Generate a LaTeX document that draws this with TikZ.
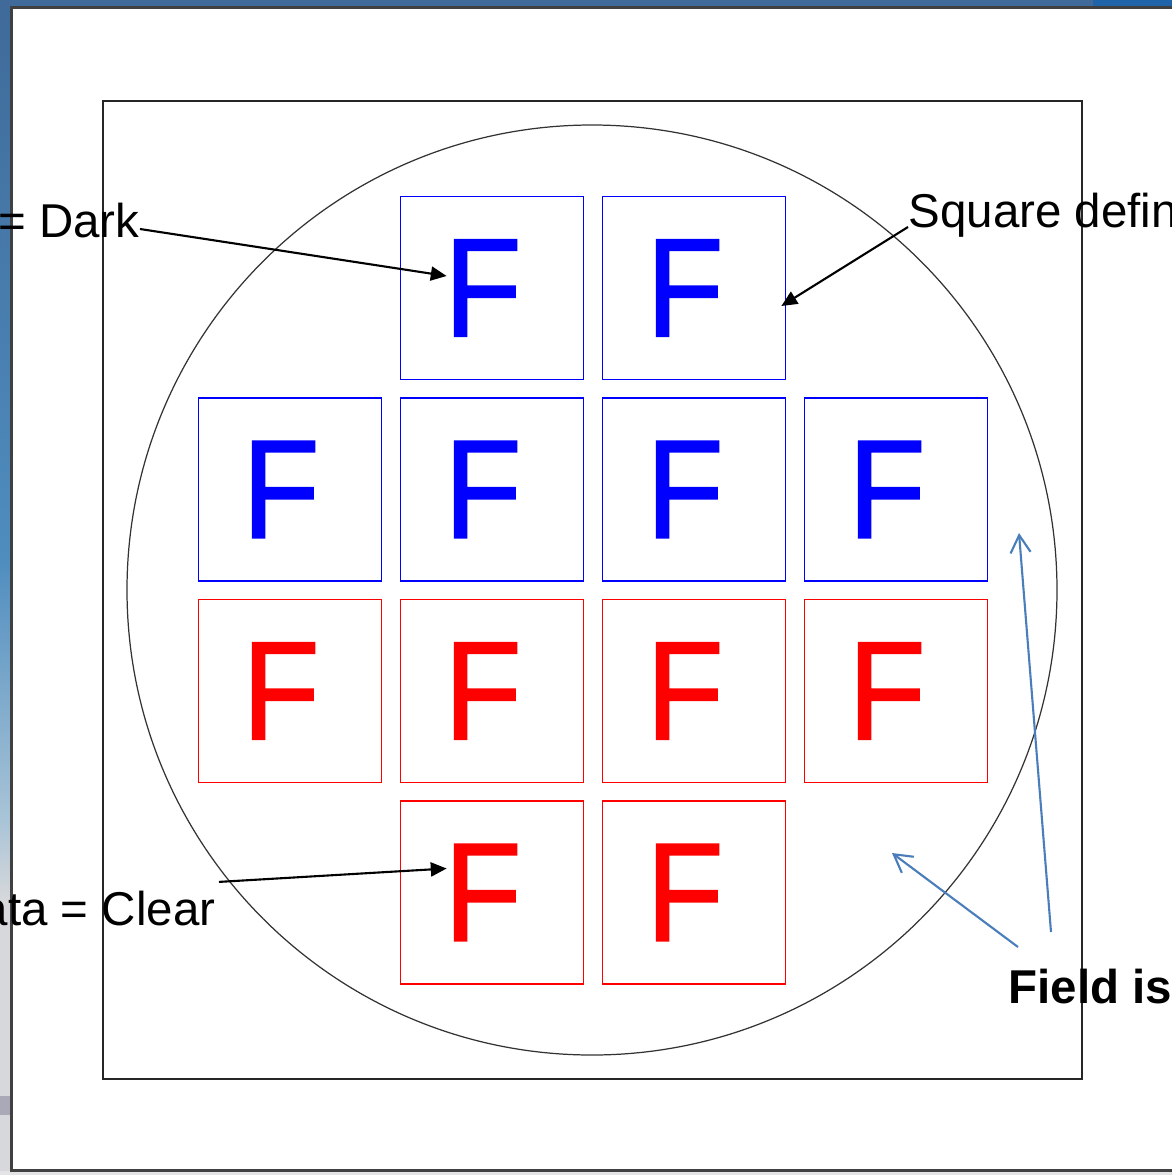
\documentclass[tikz,border=0pt]{standalone}
\usepackage{fontspec}
\setmainfont{Liberation Sans}
\newfontfamily\fletfont[FakeBold=1.2,FakeStretch=0.9]{Liberation Sans}
\usetikzlibrary{arrows.meta}
\definecolor{slidetop}{HTML}{3F6A99}
\definecolor{slidemid}{HTML}{4F8DBF}
\definecolor{slidelow}{HTML}{A9C4D7}
\definecolor{slidegray}{HTML}{D6D8DB}
\definecolor{slideband}{HTML}{A9A9B8}
\definecolor{topright}{HTML}{1F64A8}
\definecolor{panelline}{HTML}{404040}
\definecolor{fieldblue}{HTML}{4A7EBB}
\begin{document}
\begin{tikzpicture}[
  x=0.01cm, y=-0.01cm,
  every node/.style={font=\fontsize{13.5}{16}\selectfont, inner sep=0pt},
  sqbox/.style={draw=#1, line width=0.45pt, minimum size=1.83cm},
  flet/.style={text=#1, font=\fontsize{40}{44}\selectfont\fletfont},
  callout/.style={-{Triangle[length=4.5pt,width=4pt]}, line width=0.6pt},
  fieldarr/.style={-{Straight Barb[length=5pt,width=5.7pt]}, draw=fieldblue, line width=0.6pt}
]
\useasboundingbox (0,0) rectangle (1172,1175);
% slide background
\fill[slidetop] (0,0) rectangle (1172,7);
\fill[topright] (1093,0) rectangle (1172,7);
\shade[top color=slidetop, bottom color=slidemid] (0,0) rectangle (11,560);
\shade[top color=slidemid, bottom color=slidelow] (0,560) rectangle (11,820);
\shade[top color=slidelow, bottom color=slidegray] (0,820) rectangle (11,900);
\fill[slidegray] (0,900) rectangle (11,1175);
\fill[slideband] (0,1096) rectangle (11,1115);
\fill[slidegray!70] (0,1171) rectangle (1172,1175);
\fill[white] (11,7) rectangle (1172,1171);
\draw[panelline, line width=0.6pt] (1172,7.5) -- (11.5,7.5) -- (11.5,1170.5) -- (1172,1170.5);

% wafer
\draw[black!85, line width=0.5pt] (103,101) rectangle (1082,1079);
\draw[black!80, line width=0.35pt] (592,590) circle[radius=465];

% fields
\foreach \r/\c/\col in {1/2/blue,1/3/blue,
  2/1/blue,2/2/blue,2/3/blue,2/4/blue,
  3/1/red,3/2/red,3/3/red,3/4/red,
  4/2/red,4/3/red}{
  \node[sqbox=\col] (sq\r\c) at ({290+202*(\c-1)},{288+201.5*(\r-1)}) {};
  \node[flet=\col] (f\r\c) at ([xshift=-0.09cm]sq\r\c.center) {F};
}

% labels
\node[anchor=base east] (dark) at (140,237) {= Dark};
\node[anchor=base west] (sqdef) at (908,227) {Square defin};
\node[anchor=base east] (clear) at (216,925) {ata = Clear};
\node[anchor=base west, font=\fontsize{13.5}{16}\selectfont\bfseries] (field) at (1008,1003) {Field is};
\coordinate (fieldA) at (1018,947);
\coordinate (fieldB) at (1051,932);
\coordinate (gapA) at (892,853);
\coordinate (gapB) at (1019,533);

\draw[callout] ([yshift=0.08cm]dark.base east) -- ([xshift=0.03cm,yshift=0.12cm]f12.west);
\draw[callout] (sqdef.base west) -- ([xshift=-0.05cm,yshift=-0.18cm]sq13.east);
\draw[callout] ([xshift=0.03cm,yshift=0.08cm]clear.north east) -- ([xshift=0.03cm,yshift=0.24cm]f42.west);
\draw[fieldarr] (fieldA) -- (gapA);
\draw[fieldarr] (fieldB) -- (gapB);
\end{tikzpicture}
\end{document}
